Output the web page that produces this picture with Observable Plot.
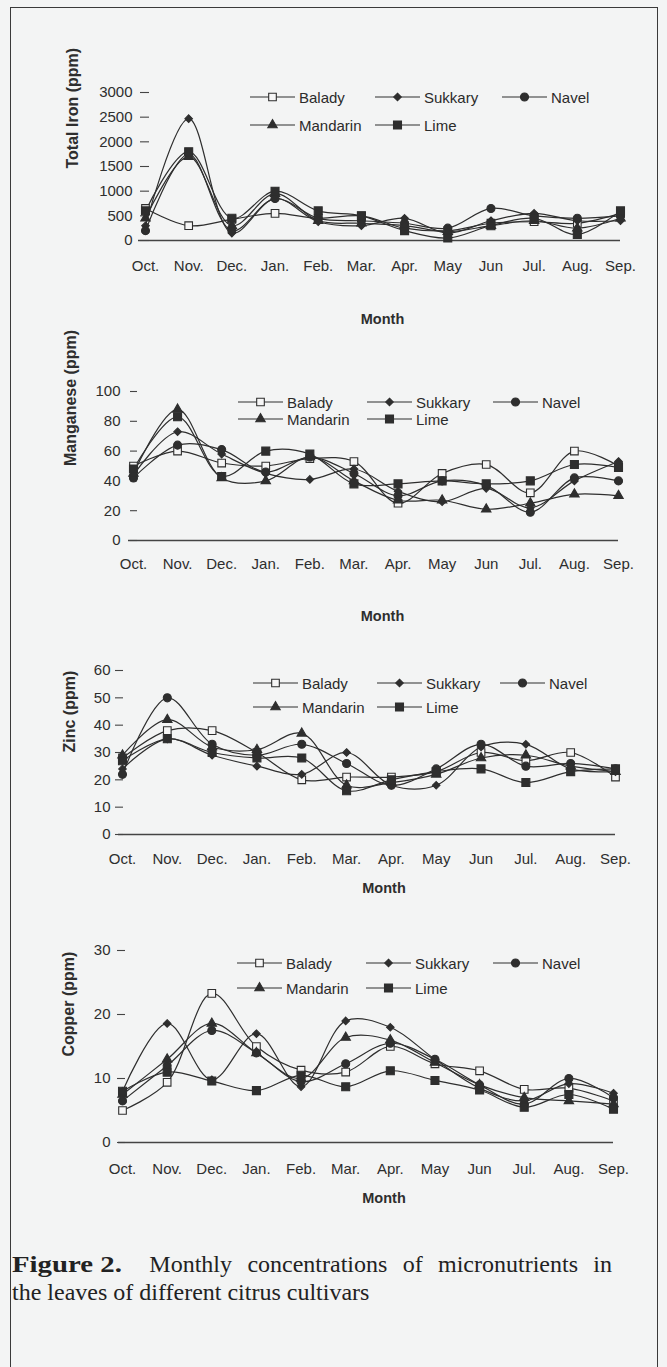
<!DOCTYPE html>
<html><head><meta charset="utf-8">
<script src="https://cdn.jsdelivr.net/npm/d3@7"></script>
<script src="https://cdn.jsdelivr.net/npm/@observablehq/plot@0.6"></script>
<style>
html,body{margin:0;padding:0;background:#f3f4f4;}
#page{position:relative;width:667px;height:1367px;overflow:hidden;font-family:"Liberation Sans",Arial,sans-serif;color:#2b2b2b;}
.panel{position:absolute;left:0;}
.box{position:absolute;left:10px;top:7px;width:646px;height:1400px;border:1.5px solid #3a3a3a;border-bottom:none;}
.leg{position:absolute;display:flex;align-items:center;height:20px;font-size:15px;white-space:nowrap;color:#2b2b2b;}
.leg span{margin-left:4px;}
.caption{position:absolute;left:12px;top:1250px;width:600px;font-family:"Liberation Serif","Times New Roman",serif;font-size:24px;line-height:28px;color:#222;}
.caption .l1{text-align:justify;text-align-last:justify;white-space:nowrap;}
.caption .l2{white-space:nowrap;}
.fig{display:inline-block;width:122px;white-space:nowrap;}
.fig b{display:inline-block;transform:scaleX(1.2);transform-origin:left center;}
</style></head>
<body><div id="page"><div class="box"></div>
<div class="caption"><div class="l1"><span class="fig"><b>Figure 2.</b></span> Monthly concentrations of micronutrients in</div><div class="l2">the leaves of different citrus cultivars</div></div>
</div>
<script>
// ---- data (rows in cultivar order) ----
const months = ["Oct.","Nov.","Dec.","Jan.","Feb.","Mar.","Apr.","May","Jun","Jul.","Aug.","Sep."];
const cultivars = ["Balady","Sukkary","Navel","Mandarin","Lime"];
const iron = [
  [650, 300, 430, 550, 450, 500, 250, 200, 350, 380, 350, 550],
  [300, 2470, 150, 850, 380, 300, 450, 150, 400, 550, 400, 400],
  [200, 1750, 200, 850, 450, 400, 350, 250, 650, 500, 450, 500],
  [450, 1700, 300, 950, 400, 350, 300, 180, 300, 400, 250, 450],
  [600, 1800, 450, 1000, 600, 500, 200, 50, 300, 450, 120, 600]
];
const manganese = [
  [50, 60, 52, 50, 55, 53, 25, 45, 51, 32, 60, 50],
  [44, 73, 58, 45, 41, 48, 33, 26, 35, 22, 40, 53],
  [42, 64, 61, 46, 56, 45, 30, 40, 37, 19, 42, 40],
  [45, 88, 42, 40, 56, 40, 27, 27, 21, 25, 31, 30],
  [48, 83, 43, 60, 58, 38, 38, 40, 38, 40, 51, 49]
];
const zinc = [
  [28, 38, 38, 30, 20, 21, 21, 23, 30, 27, 30, 21],
  [24, 35, 29, 25, 22, 30, 18, 18, 32, 33, 24, 23],
  [22, 50, 33, 29, 33, 26, 18, 24, 33, 25, 26, 24],
  [29, 42, 32, 31, 37, 18, 19, 22, 28, 29, 25, 23],
  [27, 35, 30, 28, 28, 16, 20, 23, 24, 19, 23, 24]
];
const copper = [
  [5, 9.4, 23.3, 15, 11.3, 11, 15, 12.3, 11.2, 8.3, 8.5, 6.5],
  [8, 18.6, 9.8, 17, 8.7, 19, 18, 13, 8.5, 6.5, 9.2, 7.7],
  [6.5, 12, 17.5, 14, 9.5, 12.3, 15.5, 13, 9, 6, 10, 7],
  [7.5, 13, 18.6, 14, 10, 16.4, 16, 12.5, 9, 7, 6.5, 6],
  [8, 11, 9.6, 8.1, 10.5, 8.7, 11.2, 9.7, 8.2, 5.5, 7.5, 5.2]
];
const ironTicks = [0, 500, 1000, 1500, 2000, 2500, 3000];
const manganeseTicks = [0, 20, 40, 60, 80, 100];
const zincTicks = [0, 10, 20, 30, 40, 50, 60];
const copperTicks = [0, 10, 20, 30];

// ---- styles ----
const ink = "#2e2e2e";
const symbolOf = {Balady: "square", Sukkary: "diamond2", Navel: "circle", Mandarin: "triangle", Lime: "square"};
const rOf = {Balady: 4.3, Sukkary: 3.4, Navel: 4, Mandarin: 3.5, Lime: 4.5};
const fillOf = {Balady: "#f6f6f6", Sukkary: ink, Navel: ink, Mandarin: ink, Lime: ink};
const d3Sym = {square: d3.symbolSquare, diamond2: d3.symbolDiamond2, circle: d3.symbolCircle, triangle: d3.symbolTriangle};

const page = document.getElementById("page");

function panel(o) {
  const rows = cultivars.flatMap((c, ci) => months.map((m, i) => ({c, i, v: o.values[ci][i]})));
  const ppu = (667 - o.mRight - o.mLeft) / (11 - o.d0);
  const marks = [
    Plot.ruleY([0], {stroke: "#444", strokeWidth: 1.3}),
    Plot.ruleY(o.ticks, {y: d => d, x1: o.d0 + o.dashFrom / ppu, x2: o.d0 + o.dashTo / ppu, stroke: "#444", strokeWidth: 1.1}),
    Plot.axisY({ticks: o.ticks, tickFormat: d => String(d), tickSize: 0, tickPadding: o.yPad, label: null, fontSize: 15}),
    Plot.axisX({ticks: d3.range(12), tickFormat: i => months[i], tickSize: 0, tickPadding: o.xPad, label: null, fontSize: 15}),
    Plot.line(rows, {x: "i", y: "v", z: "c", curve: "catmull-rom", stroke: ink, strokeWidth: 1.2})
  ];
  for (const c of cultivars) {
    marks.push(Plot.dot(rows.filter(d => d.c === c), {x: "i", y: "v", symbol: symbolOf[c], r: rOf[c], fill: fillOf[c], stroke: ink, strokeWidth: 1.1}));
  }
  marks.push(Plot.text([o.label], {frameAnchor: "left", rotate: -90, dx: o.labelDx, dy: o.labelDy, fontWeight: "bold", fontSize: 16, fill: ink}));
  marks.push(Plot.text(["Month"], {frameAnchor: "bottom", dy: o.monthDy, dx: o.monthDx, fontWeight: "bold", fontSize: 14.5, fill: ink}));
  const chart = Plot.plot({
    width: 667,
    height: o.mTop + o.frameH + o.mBottom,
    marginTop: o.mTop, marginBottom: o.mBottom, marginLeft: o.mLeft, marginRight: o.mRight,
    x: {type: "linear", domain: [o.d0, 11]},
    y: {domain: [o.ticks[0], o.ticks[o.ticks.length - 1]]},
    style: {background: "transparent", fontFamily: '"Liberation Sans", Arial, sans-serif', color: ink, overflow: "visible"},
    marks
  });
  const wrap = document.createElement("div");
  wrap.className = "panel";
  wrap.style.top = o.top + "px";
  wrap.appendChild(chart);
  page.appendChild(wrap);

  // legend
  const items = [
    ["Balady", 0, 0], ["Sukkary", 0, 1], ["Navel", 0, 2],
    ["Mandarin", 1, 0], ["Lime", 1, 1]
  ];
  for (const [c, row, col] of items) {
    const div = document.createElement("div");
    div.className = "leg";
    div.style.left = o.legCols[col] + "px";
    div.style.top = (o.legRows[row] - 10) + "px";
    const svg = d3.create("svg").attr("width", 45).attr("height", 14);
    svg.append("line").attr("x1", 0).attr("x2", 45).attr("y1", 7).attr("y2", 7).attr("stroke", ink).attr("stroke-width", 1.2);
    const r = rOf[c];
    svg.append("path")
      .attr("transform", "translate(22.5,7)")
      .attr("d", d3.symbol(d3Sym[symbolOf[c]], Math.PI * r * r)())
      .attr("fill", fillOf[c]).attr("stroke", ink).attr("stroke-width", 1.1);
    div.appendChild(svg.node());
    const s = document.createElement("span");
    s.textContent = c;
    div.appendChild(s);
    page.appendChild(div);
  }
}

panel({values: iron, ticks: ironTicks, label: "Total Iron (ppm)", top: 80, mTop: 12, frameH: 148, mBottom: 95,
  mLeft: 138, mRight: 47, d0: -0.162, yPad: 6, xPad: 20, monthDy: 83, monthDx: 3, labelDx: -66, labelDy: 2,
  dashFrom: 2, dashTo: 11, legRows: [97, 125], legCols: [250, 375, 502]});
panel({values: manganese, ticks: manganeseTicks, label: "Manganese (ppm)", top: 380, mTop: 11, frameH: 149, mBottom: 95,
  mLeft: 128, mRight: 49, d0: -0.113, yPad: 8, xPad: 18, monthDy: 80, monthDx: 9, labelDx: -58, labelDy: 0,
  dashFrom: 2, dashTo: 9, legRows: [402, 419], legCols: [238, 367, 493]});
panel({values: zinc, ticks: zincTicks, label: "Zinc (ppm)", top: 660, mTop: 10, frameH: 164, mBottom: 70,
  mLeft: 118, mRight: 52, d0: -0.089, yPad: 8, xPad: 19, monthDy: 58, monthDx: 17, labelDx: -49, labelDy: 0,
  dashFrom: -3, dashTo: 5, legRows: [683, 707], legCols: [253, 377, 500]});
panel({values: copper, ticks: copperTicks, label: "Copper (ppm)", top: 940, mTop: 10, frameH: 192, mBottom: 72,
  mLeft: 118, mRight: 54, d0: -0.09, yPad: 8, xPad: 21, monthDy: 60, monthDx: 18, labelDx: -50, labelDy: 10,
  dashFrom: -1, dashTo: 7, legRows: [963, 988], legCols: [237, 366, 493]});
</script>
</body></html>
